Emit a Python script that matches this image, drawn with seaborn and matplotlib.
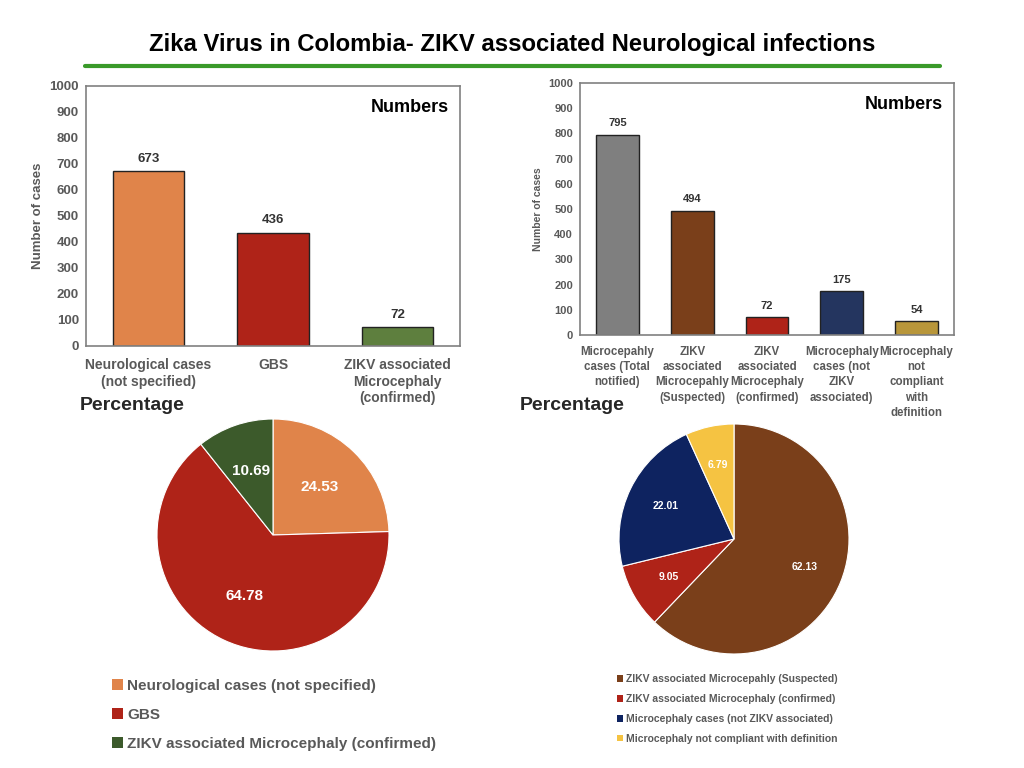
import matplotlib
matplotlib.use("Agg")
import matplotlib.pyplot as plt
import seaborn as sns
import pandas as pd
from matplotlib.patches import Patch

sns.set_theme(style="white")
plt.rcParams['font.family'] = ['Liberation Sans', 'DejaVu Sans']

# ---- data ----
left_cats = ["Neurological cases\n(not specified)", "GBS", "ZIKV associated\nMicrocephaly\n(confirmed)"]
left_vals = [673, 436, 72]
left_bar_colors = ["#E0844A", "#AF2318", "#5E7F3E"]

right_cats = ["Microcepahly\ncases (Total\nnotified)", "ZIKV\nassociated\nMicrocepahly\n(Suspected)",
              "ZIKV\nassociated\nMicrocephaly\n(confirmed)", "Microcephaly\ncases (not\nZIKV\nassociated)",
              "Microcephaly\nnot\ncompliant\nwith\ndefinition"]
right_vals = [795, 494, 72, 175, 54]
right_bar_colors = ["#7F7F7F", "#7A3F1A", "#AF2318", "#24355F", "#B8963A"]

left_pie_labels = ["Neurological cases (not specified)", "GBS", "ZIKV associated Microcephaly (confirmed)"]
left_pie_pct = [24.53, 64.78, 10.69]
left_pie_colors = ["#E0844A", "#AF2318", "#3C5A2B"]

right_pie_labels = ["ZIKV associated Microcepahly (Suspected)", "ZIKV associated Microcephaly (confirmed)",
                    "Microcephaly cases (not ZIKV associated)", "Microcephaly not compliant with definition"]
right_pie_pct = [62.13, 9.05, 22.01, 6.79]
right_pie_colors = ["#7A3F1A", "#AF2318", "#0E2360", "#F5C342"]

yticks = list(range(0, 1001, 100))

W, H = 1024, 768
fig = plt.figure(figsize=(W / 100, H / 100), dpi=100)
fig.patch.set_facecolor("white")

def frac(x0, y0, x1, y1):
    return [x0 / W, 1 - y1 / H, (x1 - x0) / W, (y1 - y0) / H]

# Title & green line
fig.text(512 / W, 1 - 45 / H, "Zika Virus in Colombia- ZIKV associated Neurological infections",
         ha="center", va="center", fontsize=17.2, fontweight="bold", color="black")
fig.add_artist(plt.Line2D([85 / W, 940 / W], [1 - 66 / H, 1 - 66 / H], color="#3A9A2A", lw=3))

gray = "#595959"

def bar_panel(rect, cats, vals, colors, tick_fs, xl_fs, val_fs, ylab_fs, ls, pad):
    ax = fig.add_axes(rect)
    df = pd.DataFrame({"cat": cats, "val": vals})
    sns.barplot(data=df, x="cat", y="val", hue="cat", palette=colors, legend=False,
                ax=ax, width=0.57, edgecolor="#222222", linewidth=1.0, saturation=1)
    ax.set_ylim(0, 1000)
    ax.set_yticks(yticks)
    ax.set_yticklabels([str(t) for t in yticks], fontsize=tick_fs, fontweight="bold", color=gray)
    ax.set_xticks(range(len(cats)))
    ax.set_xticklabels(cats, fontsize=xl_fs, color=gray, fontweight="bold", linespacing=ls)
    ax.tick_params(axis="y", length=0, pad=5)
    ax.tick_params(axis="x", length=0, pad=pad)
    ax.set_xlabel("")
    ax.set_ylabel("Number of cases", fontsize=ylab_fs, fontweight="bold", color=gray)
    for s in ax.spines.values():
        s.set_color("#808080")
        s.set_linewidth(1.2)
    for i, v in enumerate(vals):
        ax.text(i, v + 25, str(v), ha="center", va="bottom", fontsize=val_fs,
                fontweight="bold", color="#333333")
    ax.text(0.97, 0.95, "Numbers", transform=ax.transAxes, ha="right", va="top",
            fontsize=13, fontweight="bold", color="black")
    return ax

axL = bar_panel(frac(86, 86, 460, 346), left_cats, left_vals, left_bar_colors, 9.5, 10, 9.5, 9.5, 1.2, 9)
axR = bar_panel(frac(580, 83, 954, 335), right_cats, right_vals, right_bar_colors, 8, 8.3, 8, 7.5, 1.35, 8)

# Percentage headers
fig.text(80 / W, 1 - 405 / H, "Percentage", ha="left", va="center", fontsize=14, fontweight="bold")
fig.text(520 / W, 1 - 405 / H, "Percentage", ha="left", va="center", fontsize=14, fontweight="bold")

def pie_panel(cx, cy, r, pct, colors, fs, pd_):
    ax = fig.add_axes(frac(cx - r, cy - r, cx + r, cy + r))
    wedges, texts, autotexts = ax.pie(pct, colors=colors, startangle=90, counterclock=False,
                                      autopct=lambda p: "", pctdistance=pd_,
                                      wedgeprops=dict(linewidth=0.8, edgecolor="white"))
    for at, v in zip(autotexts, pct):
        at.set_text(f"{v:.2f}")
        at.set_color("white")
        at.set_fontsize(fs)
        at.set_fontweight("bold")
    ax.set_xlim(-1, 1)
    ax.set_ylim(-1, 1)
    ax.set_aspect("equal")
    ax.axis("off")
    return ax

pie_panel(273, 535, 116, left_pie_pct, left_pie_colors, 11, 0.58)
pie_panel(734, 539, 115, right_pie_pct, right_pie_colors, 7.5, 0.66)

# Legends
hL = [Patch(facecolor=c, edgecolor="none") for c in left_pie_colors]
legL = fig.legend(hL, left_pie_labels, loc="upper left", bbox_to_anchor=(106 / W, 1 - 673 / H),
                  frameon=False, prop=dict(size=11, weight="bold"), handlelength=0.7, handleheight=0.7,
                  handletextpad=0.3, labelspacing=0.98, borderaxespad=0)
for t in legL.get_texts():
    t.set_color(gray)

hR = [Patch(facecolor=c, edgecolor="none") for c in right_pie_colors]
legR = fig.legend(hR, right_pie_labels, loc="upper left", bbox_to_anchor=(613 / W, 1 - 670 / H),
                  frameon=False, prop=dict(size=7.5, weight="bold"), handlelength=0.6, handleheight=0.6,
                  handletextpad=0.25, labelspacing=0.95, borderaxespad=0)
for t in legR.get_texts():
    t.set_color(gray)

fig.savefig("out.png", dpi=100, facecolor="white")
